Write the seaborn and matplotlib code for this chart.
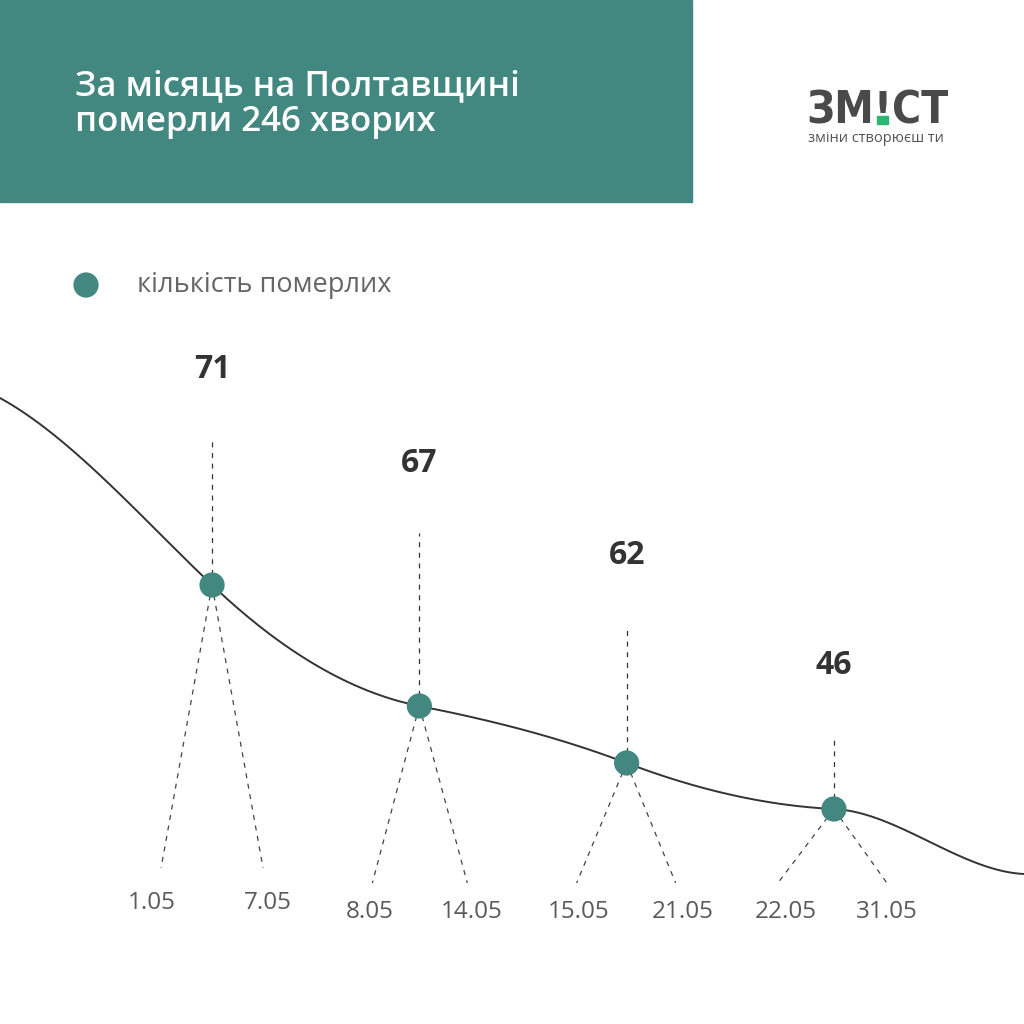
import numpy as np
import pandas as pd
import seaborn as sns
import matplotlib.pyplot as plt
from matplotlib.patches import Rectangle

# ---- data ----
title = "За місяць на Полтавщині\nпомерли 246 хворих"
legend_label = "кількість померлих"
logo_word = ["ЗМ", "!", "СТ"]
logo_slogan = "зміни створюєш ти"

weeks = [0, 1, 2, 3]
deaths = [71, 67, 62, 46]
week_start = ["1.05", "8.05", "15.05", "22.05"]
week_end = ["7.05", "14.05", "21.05", "31.05"]
dot_level = [43.9, 31.8, 26.1, 21.5]

# decorative trend line: knots (week position, level) and slope at each knot
trend_x = [-1.023, 0.0, 1.0, 2.0, 3.0, 3.917]
trend_y = [62.6, 43.9, 31.8, 26.1, 21.5, 15.0]
trend_slope = [-11.4, -19.7, -4.1, -7.9, -1.0, -1.0]

# ---- layout / style ----
TEAL = "#438880"
DARK = "#333333"
GREY = "#5a5a5a"
PXX = 1 / 207.3   # week units per pixel
STEM_TOP = [58.4, 49.1, 39.9, 28.9]
FAN_BOTTOM = [15.6, 14.1, 14.1, 14.1]
FAN_DX = [(-51, 51), (-47, 48), (-50, 49), (-56, 53)]
LABEL_DX = [(-60, 56), (-50, 52), (-48, 56), (-48, 53)]
LABEL_Y = [12.1, 11.2, 11.2, 11.2]


def hermite(xs, ys, ms, n=80):
    px, py = [], []
    for i in range(len(xs) - 1):
        h = xs[i + 1] - xs[i]
        t = np.linspace(0, 1, n, endpoint=False)
        h00 = 2 * t ** 3 - 3 * t ** 2 + 1
        h10 = t ** 3 - 2 * t ** 2 + t
        h01 = -2 * t ** 3 + 3 * t ** 2
        h11 = t ** 3 - t ** 2
        px.append(xs[i] + t * h)
        py.append(h00 * ys[i] + h10 * h * ms[i] + h01 * ys[i + 1] + h11 * h * ms[i + 1])
    px.append([xs[-1]])
    py.append([ys[-1]])
    return np.concatenate(px), np.concatenate(py)


sns.set_theme(style="white")
plt.rcParams['font.family'] = ['Open Sans', 'DejaVu Sans']

fig = plt.figure(figsize=(10.24, 10.24), dpi=100)
fig.patch.set_facecolor("white")
ax = fig.add_axes([0, 0, 1, 1])
ax.set_xlim(-1.023, 3.917)
ax.set_ylim(0, 102.4)
ax.axis("off")

# header block
fig.patches.append(Rectangle((0, 1 - 202 / 1024), 692 / 1024, 202 / 1024,
                             transform=fig.transFigure, color=TEAL, zorder=0))
fig.text(75 / 1024, 1 - 131 / 1024, title, color="white", fontsize=25,
         fontweight="semibold", va="baseline", ha="left", linespacing=1.05)

# logo
renderer = fig.canvas.get_renderer()
logo_font = dict(family="DejaVu Sans", stretch="condensed", weight="bold",
                 color="#4a4a4a", va="baseline")
probe = fig.text(0, 0, "".join(logo_word), fontsize=40, **logo_font)
w_probe = probe.get_window_extent(renderer).width
probe.remove()
logo_size = 40 * 142 / w_probe
x0 = 806 / 1024
base = 1 - 124 / 1024
t1 = fig.text(x0, base, logo_word[0], fontsize=logo_size, **logo_font)
x1 = t1.get_window_extent(renderer).x1 / 1024
t2 = fig.text(x1, base, logo_word[1], fontsize=logo_size, **logo_font)
x2 = t2.get_window_extent(renderer).x1 / 1024
fig.text(x2, base, logo_word[2], fontsize=logo_size, **logo_font)
fig.patches.append(Rectangle((x1 + 0.2 * (x2 - x1), base), 0.6 * (x2 - x1),
                             0.19 * logo_size * 100 / 72 / 1024,
                             transform=fig.transFigure, color="#2bb673", zorder=5))
fig.text(808 / 1024, 1 - 139 / 1024, logo_slogan, fontsize=10.5, color="#555555",
         va="center", ha="left")

# legend
fig.text(137 / 1024, 1 - 285 / 1024, legend_label, fontsize=19.5, color="#666666",
         va="center", ha="left")
ax.scatter([-1.023 + 86 * PXX], [102.4 - 28.5], s=330, color=TEAL, zorder=5,
           edgecolor="none")

# trend curve
cx, cy = hermite(trend_x, trend_y, trend_slope)
df_curve = pd.DataFrame({"x": cx, "y": cy})
sns.lineplot(data=df_curve, x="x", y="y", sort=False, color=DARK, linewidth=1.4,
             ax=ax, zorder=2)

dash = (0, (4, 4.5))
for i, w in enumerate(weeks):
    y = dot_level[i]
    ax.plot([w, w], [y, STEM_TOP[i]], color=DARK, lw=0.9, linestyle=dash, zorder=1)
    ax.text(w, STEM_TOP[i] + 7.0, str(deaths[i]), ha="center", va="center",
            fontsize=23, fontweight="bold", color=DARK)
    for dx in FAN_DX[i]:
        ax.plot([w, w + dx * PXX], [y, FAN_BOTTOM[i]], color="#444444", lw=0.9,
                linestyle=dash, zorder=1)
    ax.text(w + LABEL_DX[i][0] * PXX, LABEL_Y[i], week_start[i], ha="center",
            va="center", fontsize=17.5, color=GREY)
    ax.text(w + LABEL_DX[i][1] * PXX, LABEL_Y[i], week_end[i], ha="center",
            va="center", fontsize=17.5, color=GREY)

df_pts = pd.DataFrame({"week": weeks, "level": dot_level})
sns.scatterplot(data=df_pts, x="week", y="level", s=330, color=TEAL,
                edgecolor="none", ax=ax, zorder=5)

ax.set_xlim(-1.023, 3.917)
ax.set_ylim(0, 102.4)
fig.savefig("out.png", dpi=100)
